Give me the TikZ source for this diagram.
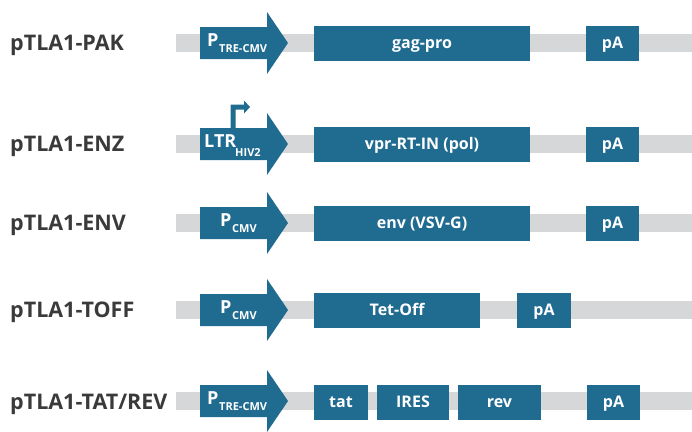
\documentclass[tikz,border=0pt]{standalone}
\usepackage{fontspec}
\setmainfont{Open Sans}
\definecolor{gblue}{RGB}{32,107,144}
\definecolor{gbar}{RGB}{214,215,217}
\definecolor{lbl}{RGB}{58,58,58}
\begin{document}
\begin{tikzpicture}[x=1pt,y=-1pt,
  rowlabel/.style={anchor=base west,inner sep=0,text=lbl,font=\fontsize{21.5}{24}\selectfont\bfseries},
  boxtext/.style={anchor=base,inner sep=0,text=white,font=\fontsize{16}{18}\selectfont\bfseries},
  promtext/.style={anchor=base west,inner sep=0,text=white,font=\fontsize{18}{20}\selectfont\bfseries},
  subtext/.style={anchor=base west,inner sep=0,text=white,font=\fontsize{11}{13}\selectfont\bfseries},
  genebar/.style={fill=gbar,draw=none},
  genebox/.style={fill=gblue,draw=none},
]
\useasboundingbox (0,0) rectangle (692,431);
% helper macros
\newcommand{\bbar}[1]{\fill[gbar] (176,#1-9) rectangle (692,#1+9);}
\newcommand{\parrow}[2]{\fill[gblue] (200,#1-16) -- (267,#1-16) -- (267,#1-31) -- (288,#1) -- (267,#1+31) -- (267,#1+16) -- (200,#1+16) -- cycle;
  \coordinate (#2) at (244,#1);}
\newcommand{\gbox}[5]{\fill[gblue] (#1,#3-17.5) rectangle (#2,#3+17.5);
  \node[boxtext] (#5) at ({(#1+#2)/2},#3+5.5) {#4};}

% Row 1
\node[rowlabel] (l1) at (10,50.5) {pTLA1-PAK};
\bbar{43}
\parrow{43}{a1}
\node[promtext] (p1) at (207,46) {P};
\node[subtext] (s1) at (219,52) {TRE-CMV};
\gbox{314}{530}{43}{gag-pro}{b11}
\gbox{586}{639}{43}{pA}{b12}

% Row 2
\node[rowlabel] (l2) at (10,151.5) {pTLA1-ENZ};
\bbar{144}
\parrow{144}{a2}
\fill[gblue] (230.5,130) -- (230.5,104.5) -- (244,104.5) -- (244,100.5) -- (250,107) -- (244,113.5) -- (244,109.5) -- (235.5,109.5) -- (235.5,130) -- cycle;
\node[promtext] (p2) at (204,147) {LTR};
\node[subtext] (s2) at (235,156) {HIV2};
\gbox{314}{530}{144}{vpr-RT-IN (pol)}{b21}
\gbox{586}{639}{144}{pA}{b22}

% Row 3
\node[rowlabel] (l3) at (10,230.5) {pTLA1-ENV};
\bbar{223}
\parrow{223}{a3}
\node[promtext] (p3) at (220,226) {P};
\node[subtext] (s3) at (232,232) {CMV};
\gbox{314}{530}{223}{env (VSV-G)}{b31}
\gbox{586}{639}{223}{pA}{b32}

% Row 4
\node[rowlabel] (l4) at (10,317.5) {pTLA1-TOFF};
\bbar{310}
\parrow{310}{a4}
\node[promtext] (p4) at (220,313) {P};
\node[subtext] (s4) at (232,319) {CMV};
\gbox{314}{480}{310}{Tet-Off}{b41}
\gbox{517}{571}{310}{pA}{b42}

% Row 5
\node[rowlabel] (l5) at (10,409.5) {pTLA1-TAT/REV};
\bbar{401}
\parrow{401}{a5}
\node[promtext] (p5) at (207,404) {P};
\node[subtext] (s5) at (219,410) {TRE-CMV};
\gbox{314}{368}{402}{tat}{b51}
\gbox{377}{449}{402}{IRES}{b52}
\gbox{458}{541}{402}{rev}{b53}
\gbox{587}{640}{402}{pA}{b54}
\end{tikzpicture}
\end{document}
